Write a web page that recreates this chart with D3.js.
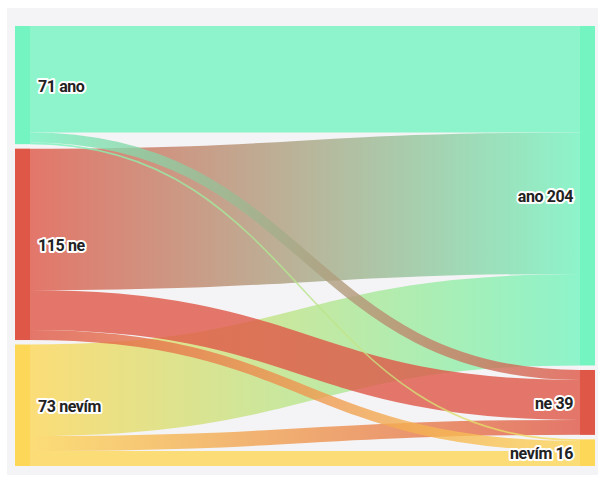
<!DOCTYPE html>
<html>
<head>
<meta charset="utf-8">
<script src="https://cdn.jsdelivr.net/npm/d3@7"></script>
<style>
  html, body { margin: 0; padding: 0; background: #ffffff; }
  svg { display: block; }
  .label { font-family: Roboto, "Noto Sans", sans-serif; font-weight: 700; font-size: 16px; letter-spacing: -0.4px; fill: #222222; stroke: #ffffff; stroke-width: 4px; stroke-linejoin: round; paint-order: stroke; }
</style>
</head>
<body>
<svg id="chart"></svg>
<script>
// Answer categories (same set on both sides) and their colours
const categories = ["ano", "ne", "nevím"];
const categoryColors = ["#74f4c0", "#df5747", "#fdd758"];

// Flows from each left-hand answer to the right-hand answers (ano, ne, nevím)
const fromAno = [64, 6, 1];
const fromNe = [85, 24, 6];
const fromNevim = [55, 9, 9];

const flowRows = [fromAno, fromNe, fromNevim];

const width = 598, height = 477;
const panel = { x: 7, y: 8, w: 591, h: 467 };
const plotTop = 26, plotBottom = 466;
const nodeWidth = 15;
const leftX = 15, rightX = 580;
const nodePadding = 4.5;

const svg = d3.select("#chart").attr("width", width).attr("height", height);

svg.append("rect")
  .attr("x", panel.x).attr("y", panel.y)
  .attr("width", panel.w).attr("height", panel.h)
  .attr("fill", "#f4f3f5");

const leftTotals = flowRows.map(r => d3.sum(r));
const rightTotals = categories.map((_, j) => d3.sum(flowRows, r => r[j]));
const grand = d3.sum(leftTotals);

// value -> pixel height
const k = d3.scaleLinear()
  .domain([0, grand])
  .range([0, (plotBottom - plotTop) - nodePadding * (categories.length - 1)]);

function stackNodes(totals, x0) {
  let y = plotTop;
  return totals.map((v, i) => {
    const n = { name: categories[i], value: v, color: categoryColors[i], x0: x0, x1: x0 + nodeWidth, y0: y, y1: y + k(v) };
    y = n.y1 + nodePadding;
    return n;
  });
}
const leftNodes = stackNodes(leftTotals, leftX);
const rightNodes = stackNodes(rightTotals, rightX);

// Build links, stacking them at source (by target order) and at target (by source order)
const links = [];
const srcOffset = leftNodes.map(n => n.y0);
const tgtOffset = rightNodes.map(n => n.y0);
flowRows.forEach((row, i) => {
  row.forEach((v, j) => {
    links.push({ s: i, t: j, value: v });
  });
});
links.forEach(l => {
  const w = k(l.value);
  l.width = w;
  l.y0 = srcOffset[l.s] + w / 2; srcOffset[l.s] += w;
});
categories.forEach((_, j) => {
  links.filter(l => l.t === j).sort((a, b) => a.s - b.s).forEach(l => {
    l.y1 = tgtOffset[j] + l.width / 2; tgtOffset[j] += l.width;
  });
});

const defs = svg.append("defs");
links.forEach((l, idx) => {
  const g = defs.append("linearGradient")
    .attr("id", "grad" + idx)
    .attr("gradientUnits", "userSpaceOnUse")
    .attr("x1", leftX + nodeWidth).attr("x2", rightX)
    .attr("y1", 0).attr("y2", 0);
  g.append("stop").attr("offset", "0%").attr("stop-color", categoryColors[l.s]);
  g.append("stop").attr("offset", "100%").attr("stop-color", categoryColors[l.t]);
  l.gid = "grad" + idx;
});

const linkPath = d3.linkHorizontal()
  .source(d => [leftX + nodeWidth, d.y0])
  .target(d => [rightX, d.y1]);

// bigger flows underneath, thinner ones on top
const drawOrder = links.slice().sort((a, b) => b.value - a.value);

svg.append("g")
  .selectAll("path")
  .data(drawOrder)
  .join("path")
  .attr("d", linkPath)
  .attr("fill", "none")
  .attr("stroke", d => `url(#${d.gid})`)
  .attr("stroke-width", d => Math.max(1, d.width))
  .attr("stroke-opacity", 0.8);

const allNodes = leftNodes.concat(rightNodes);
svg.append("g")
  .selectAll("rect")
  .data(allNodes)
  .join("rect")
  .attr("x", d => d.x0).attr("y", d => d.y0)
  .attr("width", d => d.x1 - d.x0).attr("height", d => d.y1 - d.y0)
  .attr("fill", d => d.color);

svg.append("g")
  .selectAll("text")
  .data(leftNodes)
  .join("text")
  .attr("class", "label")
  .attr("x", d => d.x1 + 8)
  .attr("y", d => (d.y0 + d.y1) / 2 + 1)
  .attr("dy", "0.35em")
  .attr("text-anchor", "start")
  .text(d => `${d.value} ${d.name}`);

svg.append("g")
  .selectAll("text")
  .data(rightNodes)
  .join("text")
  .attr("class", "label")
  .attr("x", d => d.x0 - 7)
  .attr("y", d => (d.y0 + d.y1) / 2 + 1)
  .attr("dy", "0.35em")
  .attr("text-anchor", "end")
  .text(d => `${d.name} ${d.value}`);
</script>
</body>
</html>
